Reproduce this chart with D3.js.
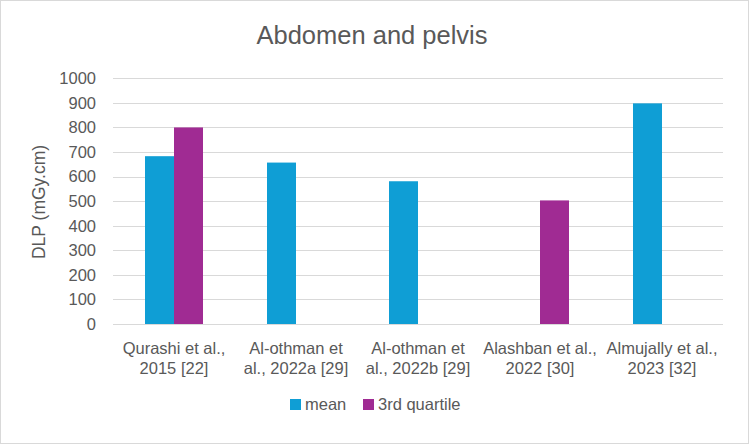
<!DOCTYPE html>
<html>
<head>
<meta charset="utf-8">
<script src="https://cdn.jsdelivr.net/npm/d3@7"></script>
<style>
	body { margin: 0; background: #fff; }
	svg { display: block; }
	text { fill: #595959; font-family: "Liberation Sans", Arial, sans-serif; }
</style>
</head>
<body>
<svg id="chart" width="750" height="445"></svg>
<script>
// chart data
const categories = [
	["Qurashi et al.,", "2015 [22]"],
	["Al-othman et", "al., 2022a [29]"],
	["Al-othman et", "al., 2022b [29]"],
	["Alashban et al.,", "2022 [30]"],
	["Almujally et al.,", "2023 [32]"]
];
const seriesNames = ["mean", "3rd quartile"];
const meanValues = [683, 657, 581, null, 898];
const q3Values = [800, null, null, 503, null];
const yTicks = [0, 100, 200, 300, 400, 500, 600, 700, 800, 900, 1000];
const colors = ["#0F9ED5", "#A02B93"];

const svg = d3.select("#chart");

// outer frame
svg.append("rect")
	.attr("x", 0.5).attr("y", 0.5)
	.attr("width", 748).attr("height", 443)
	.attr("fill", "#fff")
	.attr("stroke", "#D9D9D9");

const plot = { left: 113, right: 723, top: 78.3, bottom: 324 };

const x = d3.scaleBand()
	.domain(d3.range(categories.length))
	.range([plot.left, plot.right])
	.paddingInner(0.5246)
	.paddingOuter(0.2623);

const xInner = d3.scaleBand()
	.domain(d3.range(seriesNames.length))
	.range([0, x.bandwidth()]);

const y = d3.scaleLinear()
	.domain([0, 1000])
	.range([plot.bottom, plot.top]);

// gridlines
svg.append("g")
	.selectAll("line")
	.data(yTicks)
	.enter()
	.append("line")
	.attr("x1", plot.left).attr("x2", plot.right)
	.attr("y1", d => Math.round(y(d)) + 0.5)
	.attr("y2", d => Math.round(y(d)) + 0.5)
	.attr("stroke", "#D9D9D9")
	.attr("stroke-width", 1);

// y tick labels
const yAxis = svg.append("g")
	.attr("transform", `translate(${plot.left},0)`)
	.call(d3.axisLeft(y).tickValues(yTicks).tickFormat(d3.format("d")).tickSize(0).tickPadding(17));
yAxis.select(".domain").remove();
yAxis.selectAll("text")
	.attr("fill", "#595959")
	.style("font-family", "'Liberation Sans', Arial, sans-serif")
	.style("font-size", "16.5px");

// bars
const series = [meanValues, q3Values];
series.forEach((values, si) => {
	svg.append("g")
		.selectAll("rect")
		.data(values.map((v, i) => ({ i, v })).filter(d => d.v != null))
		.enter()
		.append("rect")
		.attr("x", d => x(d.i) + xInner(si))
		.attr("width", xInner.bandwidth())
		.attr("y", d => y(d.v))
		.attr("height", d => y(0) - y(d.v))
		.attr("fill", colors[si]);
});

// category labels
const catLabels = svg.append("g")
	.selectAll("text")
	.data(categories)
	.enter()
	.append("text")
	.attr("text-anchor", "middle")
	.attr("x", (d, i) => x(i) + x.bandwidth() / 2)
	.attr("y", 354)
	.style("font-size", "16.5px");
catLabels.selectAll("tspan")
	.data(d => d)
	.enter()
	.append("tspan")
	.attr("x", function () { return d3.select(this.parentNode).attr("x"); })
	.attr("dy", (d, i) => i === 0 ? 0 : 20)
	.text(d => d);

// title
svg.append("text")
	.attr("x", 372)
	.attr("y", 44)
	.attr("text-anchor", "middle")
	.style("font-size", "25.5px")
	.text("Abdomen and pelvis");

// y axis title
svg.append("text")
	.attr("transform", "translate(45,202) rotate(-90)")
	.attr("text-anchor", "middle")
	.style("font-size", "17.5px")
	.text("DLP (mGy.cm)");

// legend
const legendItems = [
	{ name: seriesNames[0], color: colors[0], x: 290 },
	{ name: seriesNames[1], color: colors[1], x: 363 }
];
const legend = svg.append("g")
	.selectAll("g")
	.data(legendItems)
	.enter()
	.append("g")
	.attr("transform", d => `translate(${d.x},0)`);
legend.append("rect")
	.attr("x", 0).attr("y", 399)
	.attr("width", 11).attr("height", 11)
	.attr("fill", d => d.color);
legend.append("text")
	.attr("x", 15)
	.attr("y", 410)
	.style("font-size", "16.5px")
	.text(d => d.name);
</script>
</body>
</html>
